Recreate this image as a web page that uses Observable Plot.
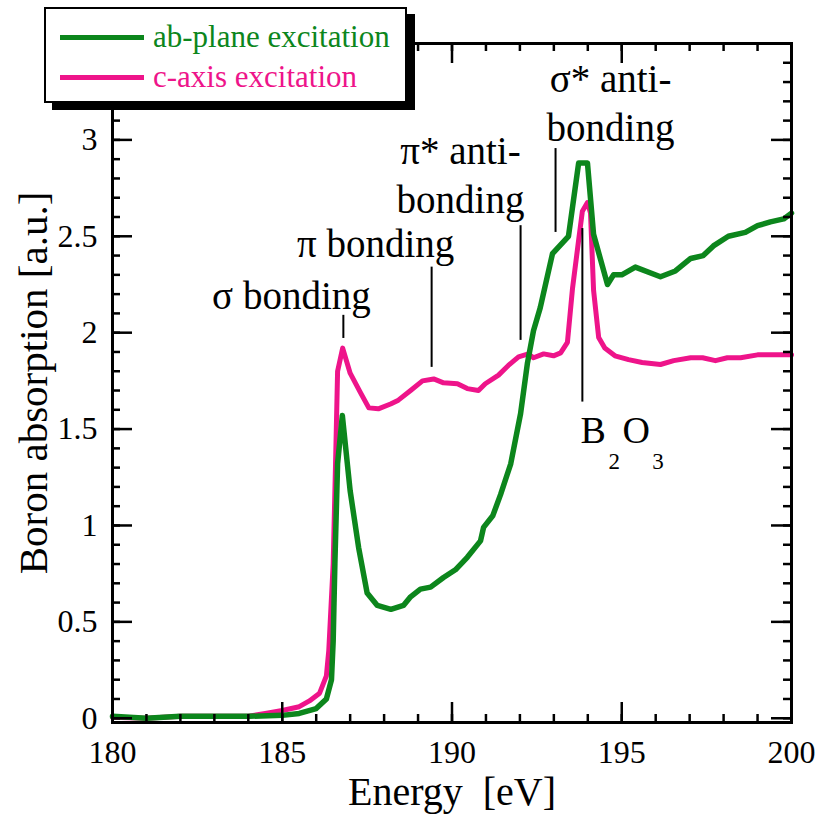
<!DOCTYPE html>
<html>
<head>
<meta charset="utf-8">
<script src="https://cdn.jsdelivr.net/npm/d3@7"></script>
<script src="https://cdn.jsdelivr.net/npm/@observablehq/plot@0.6"></script>
<style>
  html, body { margin: 0; padding: 0; background: #fff; }
  #wrap { position: relative; width: 816px; height: 814px; font-family: "Liberation Serif", "DejaVu Serif", "Noto Serif", "Times New Roman", Times, serif; }
  #legend { position: absolute; left: 44px; top: 7px; width: 363px; height: 96px; box-sizing: border-box;
            border: 2.5px solid #000; background: #fff; box-shadow: 8px 7px 0 #000; }
  .row { position: absolute; left: 0; height: 40px; }
  .sw { position: absolute; left: 14px; width: 84px; height: 5px; }
  .lt { position: absolute; left: 107px; font-size: 31px; line-height: 40px; white-space: nowrap; top: 0; }
</style>
</head>
<body>
<div id="wrap"></div>
<script>
// ---- data ----
const abEnergy = [180, 181, 182, 183, 184, 185, 185.5, 186, 186.3, 186.45, 186.5, 186.55, 186.63, 186.77, 187.0, 187.25, 187.5, 187.8, 188.2, 188.57, 188.78, 189.07, 189.37, 189.75, 190.1, 190.45, 190.84, 190.93, 191.2, 191.43, 191.73, 192.02, 192.22, 192.4, 192.6, 192.96, 193.43, 193.73, 193.99, 194.17, 194.58, 194.76, 195.0, 195.4, 196.14, 196.58, 197.03, 197.4, 197.7, 198.14, 198.64, 199.0, 199.38, 199.77, 200];
const abValue  = [0.01, 0.0, 0.01, 0.01, 0.01, 0.015, 0.025, 0.05, 0.1, 0.2, 0.4, 0.8, 1.32, 1.57, 1.18, 0.885, 0.65, 0.585, 0.565, 0.585, 0.63, 0.67, 0.68, 0.73, 0.77, 0.835, 0.92, 0.99, 1.05, 1.16, 1.32, 1.58, 1.84, 2.01, 2.13, 2.41, 2.50, 2.88, 2.88, 2.51, 2.25, 2.30, 2.30, 2.34, 2.29, 2.32, 2.385, 2.40, 2.45, 2.50, 2.52, 2.555, 2.575, 2.59, 2.62];

const cEnergy = [180, 181, 182, 183, 184, 184.5, 185, 185.5, 185.8, 186.1, 186.3, 186.37, 186.5, 186.57, 186.63, 186.78, 187.0, 187.3, 187.55, 187.83, 188.19, 188.42, 188.78, 189.13, 189.46, 189.75, 190.16, 190.45, 190.78, 190.98, 191.37, 191.66, 191.96, 192.25, 192.4, 192.7, 192.99, 193.2, 193.4, 193.55, 193.73, 193.84, 193.99, 194.08, 194.17, 194.32, 194.5, 194.8, 195.2, 195.6, 196.14, 196.53, 197.03, 197.38, 197.76, 198.11, 198.5, 199.0, 200];
const cValue  = [0.005, 0.0, 0.01, 0.01, 0.01, 0.025, 0.04, 0.06, 0.09, 0.13, 0.22, 0.35, 0.80, 1.32, 1.80, 1.92, 1.79, 1.69, 1.61, 1.605, 1.63, 1.65, 1.70, 1.75, 1.76, 1.74, 1.735, 1.71, 1.70, 1.735, 1.78, 1.83, 1.875, 1.89, 1.87, 1.89, 1.88, 1.895, 1.95, 2.23, 2.48, 2.63, 2.675, 2.62, 2.22, 1.975, 1.92, 1.88, 1.86, 1.845, 1.835, 1.855, 1.87, 1.87, 1.855, 1.87, 1.87, 1.885, 1.885];

const seriesNames = ["ab-plane excitation", "c-axis excitation"];
const seriesColors = ["#0c861c", "#ee148a"];

const xMajor = [180, 185, 190, 195, 200];
const xMinor = d3.range(180, 201, 1);
const yMajor = [0, 0.5, 1, 1.5, 2, 2.5, 3, 3.5];
const yMinor = d3.range(0, 36).map(i => +(i / 10).toFixed(1));
const yLabels = [0, 0.5, 1, 1.5, 2, 2.5, 3];

// annotation texts (energy, value = baseline of last line)
const annTextE = [185.27, 187.75, 190.25, 194.67];
const annTextV = [2.125, 2.39, 2.623, 2.996];
const annTexts = ["σ bonding", "π bonding", "π* anti-\nbonding", "σ* anti-\nbonding"];
// annotation leader lines
const annLineE  = [186.8, 189.4, 192.02, 193.05, 193.84];
const annLineV1 = [1.97, 1.82, 1.96, 2.52, 1.64];
const annLineV2 = [2.09, 2.34, 2.555, 2.955, 2.54];
// B2O3 label parts
const b2o3Parts = ["B", "2", "O", "3"];
const b2o3E = [193.785, 194.61, 195.02, 195.9];
const b2o3V = [1.43, 1.295, 1.43, 1.295];
const b2o3Size = [38, 23, 38, 23];

// ---- build ----
const FONT = "'Liberation Serif', 'DejaVu Serif', 'Noto Serif', 'Times New Roman', Times, serif";
const W = 816, H = 814, mt = 43, mb = 92, ml = 112, mr = 25;
const xDom = [180, 200], yDom = [-0.022, 3.5];
const kx = (xDom[1] - xDom[0]) / (W - ml - mr);
const ky = (yDom[1] - yDom[0]) / (H - mt - mb);
const MAJ = 20, MIN = 8;

const ab = abEnergy.map((e, i) => ({e, v: abValue[i], s: seriesNames[0]}));
const cx = cEnergy.map((e, i) => ({e, v: cValue[i], s: seriesNames[1]}));
const ann = annTexts.map((t, i) => ({t, e: annTextE[i], v: annTextV[i]}));
const annL = annLineE.map((e, i) => ({e, v1: annLineV1[i], v2: annLineV2[i]}));
const bo = b2o3Parts.map((t, i) => ({t, e: b2o3E[i], v: b2o3V[i], fs: b2o3Size[i]}));

const tw = 2.5;
const ticks = [];
for (const [arr, len] of [[xMinor, MIN], [xMajor, MAJ]]) {
  ticks.push(Plot.ruleX(arr, {x: d => d, y1: yDom[0], y2: yDom[0] + len * ky, stroke: "#000", strokeWidth: tw}));
  ticks.push(Plot.ruleX(arr, {x: d => d, y1: yDom[1], y2: yDom[1] - len * ky, stroke: "#000", strokeWidth: tw}));
}
for (const [arr, len] of [[yMinor, MIN], [yMajor, MAJ]]) {
  ticks.push(Plot.ruleY(arr, {y: d => d, x1: xDom[0], x2: xDom[0] + len * kx, stroke: "#000", strokeWidth: tw}));
  ticks.push(Plot.ruleY(arr, {y: d => d, x1: xDom[1], x2: xDom[1] - len * kx, stroke: "#000", strokeWidth: tw}));
}

const chart = Plot.plot({
  width: W, height: H,
  marginTop: mt, marginBottom: mb, marginLeft: ml, marginRight: mr,
  style: {fontFamily: FONT, color: "#000", background: "#fff"},
  x: {domain: xDom},
  y: {domain: yDom},
  color: {domain: seriesNames, range: seriesColors},
  marks: [
    Plot.axisX({anchor: "bottom", ticks: xMajor, tickSize: 0, tickPadding: 18, fontSize: 32, label: null, tickFormat: d => String(d)}),
    Plot.axisY({anchor: "left", ticks: yLabels, tickSize: 0, tickPadding: 15, fontSize: 32, label: null, tickFormat: d => String(d)}),
    Plot.text(["Energy  [eV]"], {frameAnchor: "bottom", text: d => d, dy: 82, fontSize: 40, lineAnchor: "bottom", textAnchor: "middle"}),
    Plot.text(["Boron absorption [a.u.]"], {frameAnchor: "left", text: d => d, rotate: -90, dx: -79, fontSize: 41, lineAnchor: "middle", textAnchor: "middle"}),
    Plot.line(cx, {x: "e", y: "v", stroke: "s", strokeWidth: 5, strokeLinejoin: "round"}),
    Plot.line(ab, {x: "e", y: "v", stroke: "s", strokeWidth: 5.5, strokeLinejoin: "round"}),
    Plot.ruleX(annL, {x: "e", y1: "v1", y2: "v2", stroke: "#000", strokeWidth: 2}),
    Plot.text(ann, {x: "e", y: "v", text: "t", fontSize: 39, lineAnchor: "bottom", lineHeight: 1.24, textAnchor: "middle"}),
    Plot.text(bo, {x: "e", y: "v", text: "t", fontSize: "fs", lineAnchor: "bottom", textAnchor: "start"}),
    Plot.frame({stroke: "#000", strokeWidth: 3}),
    ...ticks
  ]
});

const wrap = document.getElementById("wrap");
wrap.appendChild(chart);

const legend = document.createElement("div");
legend.id = "legend";
seriesNames.forEach((name, i) => {
  const row = document.createElement("div");
  row.className = "row";
  row.style.top = (i === 0 ? 8 : 48) + "px";
  row.style.width = "100%";
  const sw = document.createElement("div");
  sw.className = "sw";
  sw.style.background = seriesColors[i];
  sw.style.top = "18px";
  const lt = document.createElement("div");
  lt.className = "lt";
  lt.style.color = seriesColors[i];
  lt.textContent = name;
  row.appendChild(sw);
  row.appendChild(lt);
  legend.appendChild(row);
});
wrap.appendChild(legend);
</script>
</body>
</html>
